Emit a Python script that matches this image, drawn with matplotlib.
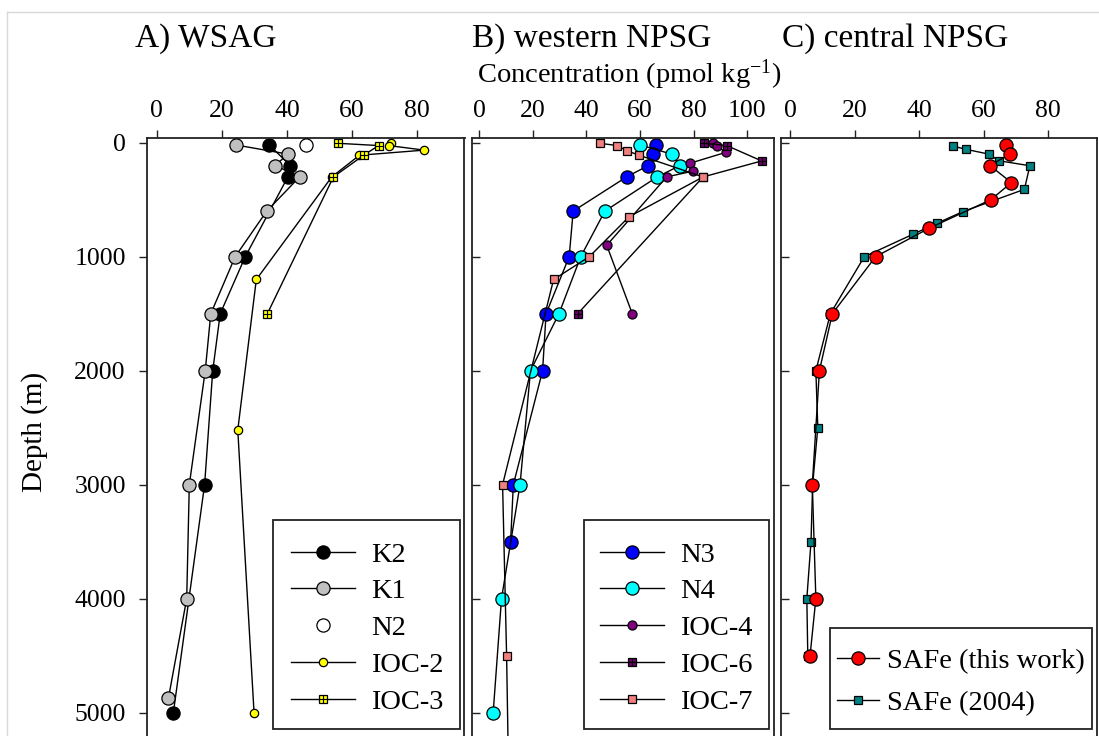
import matplotlib
matplotlib.use("Agg")
import matplotlib.pyplot as plt
from matplotlib.lines import Line2D
from matplotlib.patches import Rectangle
from matplotlib.legend_handler import HandlerTuple

plt.rcParams['font.family'] = ['Liberation Serif', 'DejaVu Serif']
plt.rcParams['mathtext.fontset'] = 'custom'
plt.rcParams['mathtext.rm'] = 'Liberation Serif'
plt.rcParams['mathtext.it'] = 'Liberation Serif:italic'

# ---------------- data: concentration (pmol/kg) vs depth (m) ----------------
# A) WSAG
k2_conc = [34.6, 41.0, 40.3, 27.2, 19.5, 17.2, 14.7, 5.1]
k2_depth = [20, 200, 300, 1000, 1500, 2000, 3000, 5000]
k1_conc = [24.4, 40.3, 36.4, 43.9, 33.8, 24.1, 16.6, 14.9, 10.0, 9.2, 3.6]
k1_depth = [20, 100, 200, 300, 600, 1000, 1500, 2000, 3000, 4000, 4870]
n2_conc = [45.9]
n2_depth = [20]
ioc2_conc = [72.0, 71.3, 82.2, 62.3, 53.8, 30.6, 24.9, 29.9]
ioc2_depth = [5, 25, 65, 110, 300, 1200, 2520, 5000]
ioc3_conc = [55.6, 68.2, 63.6, 54.3, 34.0]
ioc3_depth = [5, 25, 110, 300, 1500]

# B) western NPSG
n3_conc = [65.9, 65.0, 63.1, 55.0, 35.1, 33.6, 25.0, 23.7, 12.8, 11.8]
n3_depth = [20, 100, 200, 300, 600, 1000, 1500, 2000, 3000, 3500]
n4_conc = [60.0, 71.8, 74.9, 66.4, 46.9, 37.9, 29.8, 19.2, 15.3, 8.4, 5.3]
n4_depth = [20, 100, 200, 300, 600, 1000, 1500, 2000, 3000, 4000, 5000]
ioc4_conc = [87.2, 88.5, 91.9, 78.6, 79.6, 69.9, 47.6, 57.1]
ioc4_depth = [5, 25, 85, 180, 250, 300, 900, 1500]
ioc6_conc = [84.0, 92.3, 105.3, 83.5, 36.8]
ioc6_depth = [5, 25, 160, 300, 1500]
ioc7_conc = [45.0, 51.5, 55.0, 59.7, 83.5, 55.9, 41.1, 27.8, 8.8, 10.3, 11.0]
ioc7_depth = [5, 25, 70, 110, 300, 650, 1000, 1200, 3000, 4500, 5500]

# C) central NPSG
safe_conc = [66.8, 68.1, 61.9, 68.6, 62.2, 43.1, 26.5, 13.1, 9.1, 6.9, 8.0, 6.2]
safe_depth = [20, 100, 200, 350, 500, 750, 1000, 1500, 2000, 3000, 4000, 4500]
safe04_conc = [50.5, 54.5, 61.6, 64.7, 74.3, 72.6, 53.5, 45.5, 38.0, 23.0,
               12.5, 8.0, 8.6, 7.0, 6.5, 5.2, 5.5]
safe04_depth = [30, 58, 100, 158, 202, 409, 605, 707, 804, 1000,
                1500, 2000, 2500, 3000, 3500, 4000, 4500]

x_ticks_a = [0, 20, 40, 60, 80]
x_ticks_b = [0, 20, 40, 60, 80, 100]
x_ticks_c = [0, 20, 40, 60, 80]
depth_ticks = [0, 1000, 2000, 3000, 4000, 5000]

# ---------------- figure layout (pixel based) ----------------
W, H = 1099, 736
fig = plt.figure(figsize=(W / 100, H / 100), dpi=100)


def axes_px(left, right, top, bottom):
    return fig.add_axes([left / W, 1 - bottom / H, (right - left) / W, (bottom - top) / H])


ax_a = axes_px(146.7, 464.5, 137.7, 740)
ax_b = axes_px(471.7, 774.3, 137.7, 740)
ax_c = axes_px(781.0, 1096.7, 137.7, 740)

ax_a.set_xlim(-3.1, 94.6)
ax_b.set_xlim(-2.7, 110.0)
ax_c.set_xlim(-2.8, 95.0)

TICK_FS = 18.5
LEG_FS = 20.5
EDGE = '#222222'

for ax, xt in ((ax_a, x_ticks_a), (ax_b, x_ticks_b), (ax_c, x_ticks_c)):
    ax.set_ylim(5240, -44)
    ax.set_xticks(xt)
    ax.set_yticks(depth_ticks)
    ax.xaxis.tick_top()
    ax.tick_params(axis='x', direction='out', length=6, width=1.0, pad=5,
                   labelsize=TICK_FS, colors=EDGE, labelcolor='black')
    for sp in ax.spines.values():
        sp.set_linewidth(1.3)
        sp.set_color(EDGE)

ax_a.tick_params(axis='y', direction='out', length=6, width=1.0, pad=9,
                 labelsize=TICK_FS, colors=EDGE, labelcolor='black')
for ax in (ax_b, ax_c):
    ax.tick_params(axis='y', direction='in', length=6, width=1.0, labelleft=False,
                   colors=EDGE)


def profile(ax, x, y, color, marker, ms, line=True, grid=False, z=2):
    ls = '-' if line else 'none'
    h = ax.plot(x, y, linestyle=ls, color='black', lw=1.0, marker=marker, ms=ms,
                mfc=color, mec='black', mew=0.9, zorder=z, clip_on=False)[0]
    if grid:
        g = ax.plot(x, y, linestyle='none', marker='+', ms=ms, mec='black', mew=0.8,
                    zorder=z + 0.1, clip_on=False)[0]
        return (h, g)
    return h


# A) WSAG
hA = [
    profile(ax_a, k2_conc, k2_depth, 'black', 'o', 9.5, z=2),
    profile(ax_a, k1_conc, k1_depth, '#C0C0C0', 'o', 9.5, z=3),
    profile(ax_a, n2_conc, n2_depth, 'white', 'o', 9.5, line=False, z=4),
    profile(ax_a, ioc2_conc, ioc2_depth, '#FFFF00', 'o', 6.0, z=5),
    profile(ax_a, ioc3_conc, ioc3_depth, '#FFFF00', 's', 5.5, grid=True, z=6),
]
labA = ['K2', 'K1', 'N2', 'IOC-2', 'IOC-3']

# B) western NPSG
hB = [
    profile(ax_b, n3_conc, n3_depth, '#0000FF', 'o', 9.5, z=2),
    profile(ax_b, n4_conc, n4_depth, '#00FFFF', 'o', 9.5, z=3),
    profile(ax_b, ioc4_conc, ioc4_depth, '#800080', 'o', 6.5, z=4),
    profile(ax_b, ioc6_conc, ioc6_depth, '#660066', 's', 5.5, grid=True, z=5),
    profile(ax_b, ioc7_conc, ioc7_depth, '#F08080', 's', 6.0, z=7),
]
labB = ['N3', 'N4', 'IOC-4', 'IOC-6', 'IOC-7']

# C) central NPSG
hC = [
    profile(ax_c, safe_conc, safe_depth, '#FF0000', 'o', 9.5, z=4),
    profile(ax_c, safe04_conc, safe04_depth, '#008080', 's', 5.5, z=3),
]
labC = ['SAFe (this work)', 'SAFe (2004)']


def legend_px(ax, handles, labels, box, entry_x, entry_top, hl, htp, lsp):
    # framed box drawn as a patch of the axes, entries placed without their own frame
    left, right, top, bottom = box
    rect = Rectangle((left / W, 1 - bottom / H), (right - left) / W, (bottom - top) / H,
                     transform=fig.transFigure, facecolor='white', edgecolor=EDGE,
                     lw=1.3, zorder=19, clip_on=False)
    ax.add_artist(rect)
    leg = ax.legend(handles, labels, loc='upper left',
                    bbox_to_anchor=(entry_x / W, 1 - entry_top / H),
                    bbox_transform=fig.transFigure,
                    borderaxespad=0, borderpad=0, fontsize=LEG_FS, numpoints=1,
                    handlelength=hl, handletextpad=htp,
                    labelspacing=lsp, frameon=False,
                    handler_map={tuple: HandlerTuple(ndivide=1)})
    leg.set_zorder(20)
    return leg


legend_px(ax_a, hA, labA, (273.3, 460.0, 520.0, 729.0), 291.0, 541.7, 2.25, 0.55, 0.38)
legend_px(ax_b, hB, labB, (584.3, 769.3, 520.0, 729.0), 600.0, 541.7, 2.25, 0.55, 0.38)
legend_px(ax_c, hC, labC, (830.0, 1092.3, 628.3, 729.0), 836.7, 648.4, 1.5, 0.28, 0.56)

# panel titles and axis labels
TITLE_FS = 24
fig.text(135 / W, 1 - 47 / H, 'A) WSAG', fontsize=TITLE_FS, ha='left', va='baseline')
fig.text(472 / W, 1 - 47 / H, 'B) western NPSG', fontsize=TITLE_FS, ha='left', va='baseline')
fig.text(782 / W, 1 - 47 / H, 'C) central NPSG', fontsize=TITLE_FS, ha='left', va='baseline')
fig.text(629.5 / W, 1 - 83 / H, r'Concentration (pmol kg$^{\mathregular{-1}}$)',
         fontsize=20.5, ha='center', va='baseline')
fig.text(35 / W, 1 - 432 / H, 'Depth (m)', fontsize=21, rotation=90,
         ha='center', va='center')

# thin page border
fig.add_artist(Line2D([7 / W, 1], [1 - 12 / H, 1 - 12 / H], color='#D9D9D9', lw=1.0,
                      transform=fig.transFigure))
fig.add_artist(Line2D([7 / W, 7 / W], [0, 1 - 12 / H], color='#D9D9D9', lw=1.0,
                      transform=fig.transFigure))

fig.savefig('out.png', dpi=100)
